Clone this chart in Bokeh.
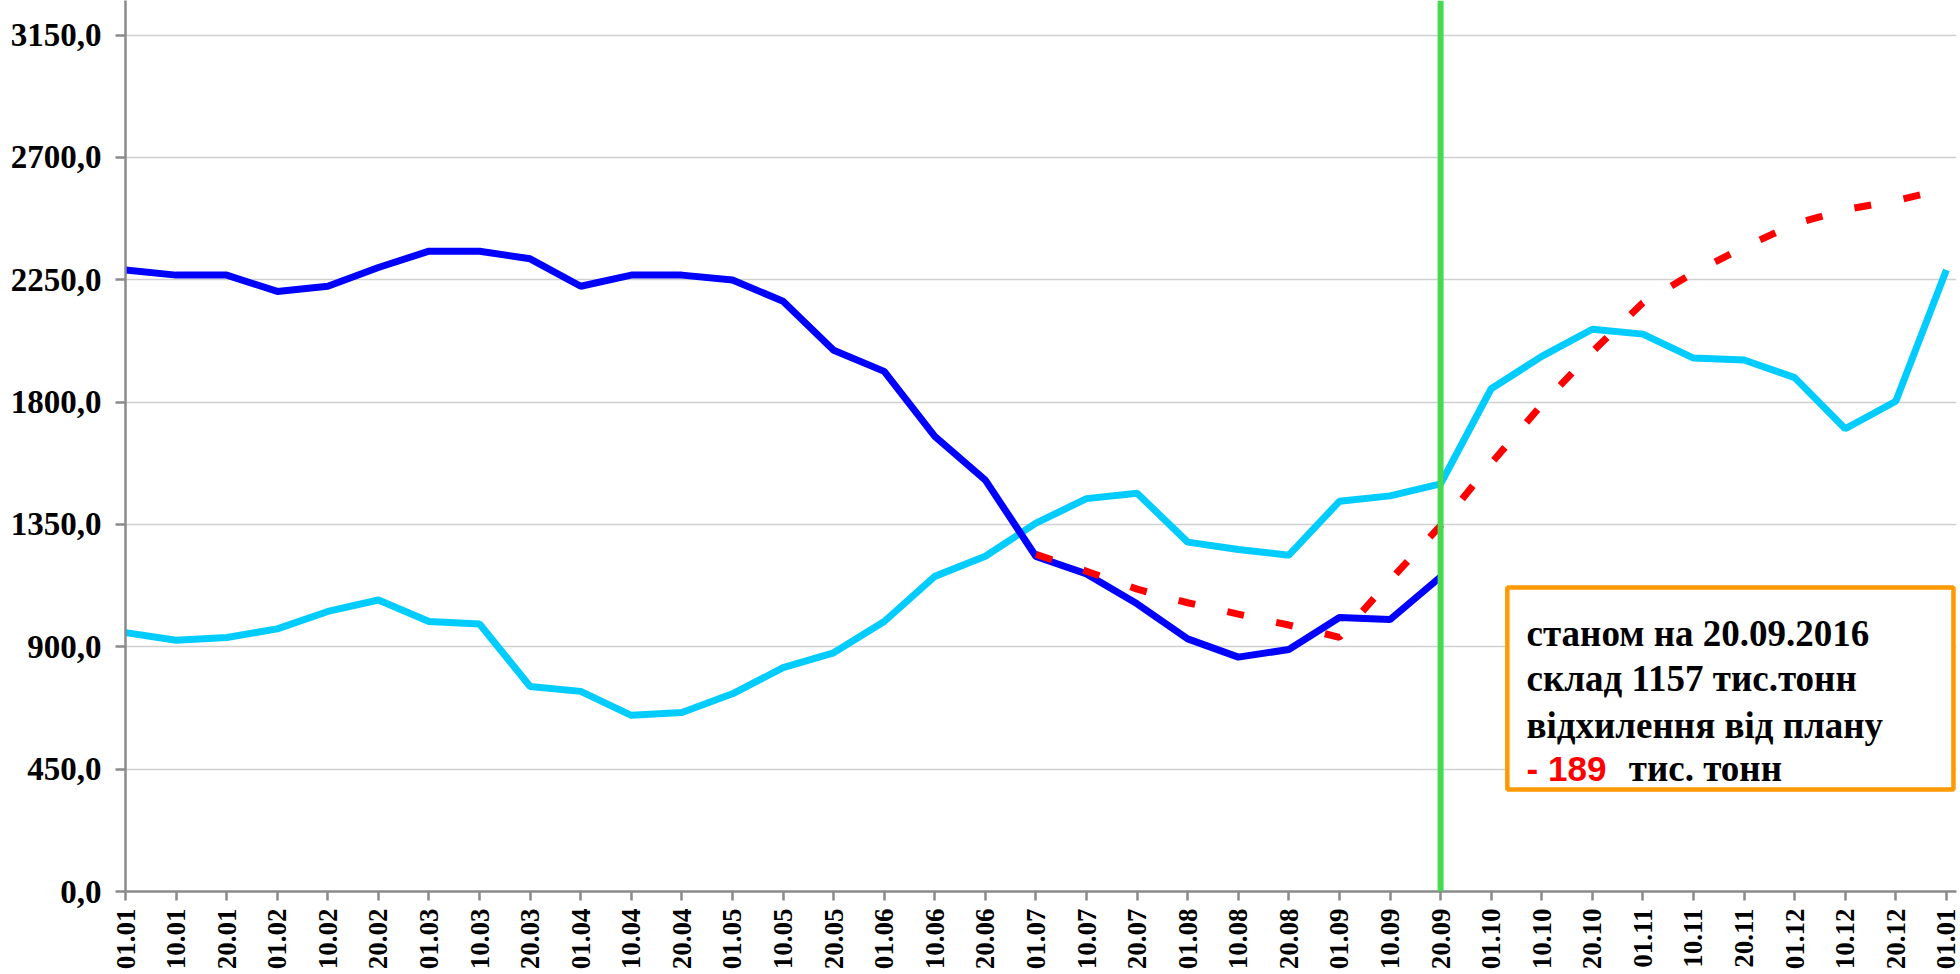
from bokeh.plotting import figure
from bokeh.models import FixedTicker, Range1d, Span, BoxAnnotation, Label
from bokeh.embed import file_html
from bokeh.resources import INLINE
import math

# ---- data ----
dates = ["01.01", "10.01", "20.01", "01.02", "10.02", "20.02", "01.03", "10.03", "20.03",
         "01.04", "10.04", "20.04", "01.05", "10.05", "20.05", "01.06", "10.06", "20.06",
         "01.07", "10.07", "20.07", "01.08", "10.08", "20.08", "01.09", "10.09", "20.09",
         "01.10", "10.10", "20.10", "01.11", "10.11", "20.11", "01.12", "10.12", "20.12",
         "01.01"]

prev_year = [952, 924, 934, 966, 1030, 1072, 993, 984, 754, 736, 648, 658, 727, 823, 878,
             993, 1159, 1233, 1355, 1445, 1465, 1285, 1258, 1237, 1435, 1455, 1499,
             1849, 1968, 2068, 2050, 1962, 1955, 1890, 1702, 1803, 2286]

current_year = [2286, 2267, 2267, 2207, 2226, 2295, 2355, 2355, 2327, 2226, 2267, 2267,
                2249, 2171, 1991, 1913, 1674, 1513, 1232, 1168, 1058, 929, 862, 890,
                1008, 1000, 1157]

plan_start = 18
plan = [1240, 1178, 1112, 1062, 1020, 980, 935, 1145, 1346, 1575, 1790, 1985, 2165,
        2275, 2370, 2455, 2508, 2541, 2585]

y_ticks = [0, 450, 900, 1350, 1800, 2250, 2700, 3150]
y_tick_labels = ["0,0", "450,0", "900,0", "1350,0", "1800,0", "2250,0", "2700,0", "3150,0"]

report_index = 26
note_lines = ["станом на 20.09.2016", "склад 1157 тис.тонн", "відхилення від плану"]
note_deviation = "- 189"
note_unit = "тис. тонн"

# ---- figure ----
p = figure(width=1960, height=972,
           x_range=Range1d(0, 36.2), y_range=Range1d(0, 3277),
           output_backend="svg", toolbar_location=None,
           min_border_left=125, min_border_right=4, min_border_top=0, min_border_bottom=81)
p.outline_line_color = None
p.background_fill_color = "white"
p.border_fill_color = "white"

axis_col = "#8A8A8A"
serif = "Liberation Serif"

# y axis
p.yaxis.ticker = FixedTicker(ticks=y_ticks)
p.yaxis.major_label_overrides = {t: l for t, l in zip(y_ticks, y_tick_labels)}
p.yaxis.major_label_text_font = serif
p.yaxis.major_label_text_font_style = "bold"
p.yaxis.major_label_text_font_size = "33px"
p.yaxis.major_label_text_color = "black"
p.yaxis.axis_line_color = axis_col
p.yaxis.axis_line_width = 2.5
p.yaxis.major_tick_line_color = axis_col
p.yaxis.major_tick_line_width = 2.5
p.yaxis.major_tick_out = 10
p.yaxis.major_tick_in = 0
p.yaxis.minor_tick_line_color = None
p.yaxis.major_label_standoff = 14

# x axis
p.xaxis.ticker = FixedTicker(ticks=list(range(len(dates))))
p.xaxis.major_label_overrides = {i: d for i, d in enumerate(dates)}
p.xaxis.major_label_orientation = math.pi / 2
p.xaxis.major_label_text_font = serif
p.xaxis.major_label_text_font_style = "bold"
p.xaxis.major_label_text_font_size = "27px"
p.xaxis.major_label_text_color = "black"
p.xaxis.axis_line_color = axis_col
p.xaxis.axis_line_width = 2.5
p.xaxis.major_tick_line_color = axis_col
p.xaxis.major_tick_line_width = 2.5
p.xaxis.major_tick_out = 9
p.xaxis.major_tick_in = 0
p.xaxis.minor_tick_line_color = None
p.xaxis.major_label_standoff = 8

p.xgrid.grid_line_color = None
p.ygrid.ticker = FixedTicker(ticks=y_ticks)
p.ygrid.grid_line_color = "#D0D0D0"
p.ygrid.grid_line_width = 1.5

# ---- series ----
p.line(list(range(len(prev_year))), prev_year, line_color="#00CCFF", line_width=7)
p.line(list(range(len(current_year))), current_year, line_color="#0000FF", line_width=7)
p.line(list(range(plan_start, plan_start + len(plan))), plan, line_color="#FF0000",
       line_width=7, line_dash="17 33")

p.add_layout(Span(location=report_index, dimension="height", line_color="#47D94F", line_width=6))

# ---- note box ----
box = BoxAnnotation(left=27.32, right=36.14, bottom=375, top=1118,
                    line_color="#FF9900", line_width=4.5, line_alpha=1,
                    fill_color="white", fill_alpha=1, level="overlay")
p.add_layout(box)

ys = [949, 784, 611]
for txt, yy in zip(note_lines, ys):
    p.add_layout(Label(x=27.70, y=yy, text=txt, text_font=serif, text_font_style="bold",
                       text_font_size="37px", text_color="black", text_baseline="alphabetic",
                       level="overlay"))
p.add_layout(Label(x=27.70, y=453, text=note_deviation, text_font="Liberation Sans",
                   text_font_style="bold", text_font_size="35px", text_color="#FF0000",
                   text_baseline="alphabetic", level="overlay"))
p.add_layout(Label(x=29.72, y=453, text=note_unit, text_font=serif, text_font_style="bold",
                   text_font_size="37px", text_color="black", text_baseline="alphabetic",
                   level="overlay"))

open("out.html", "w").write(file_html(p, INLINE))
